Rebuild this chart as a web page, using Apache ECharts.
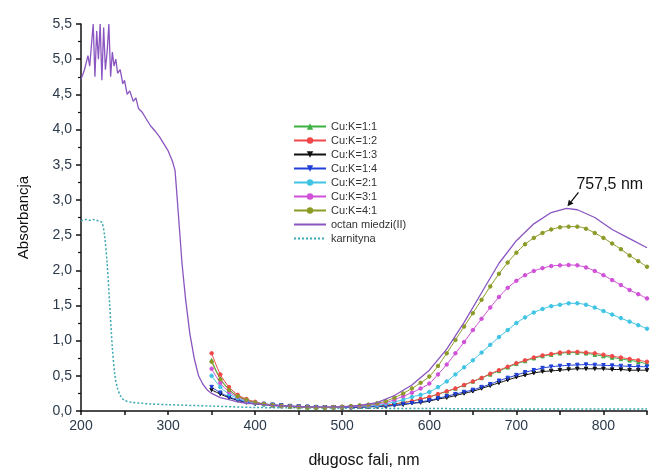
<!DOCTYPE html>
<html>
<head>
<meta charset="utf-8">
<script src="https://cdn.jsdelivr.net/npm/echarts@6/dist/echarts.min.js"></script>
<style>html,body{margin:0;padding:0;background:#fff;}#c{width:663px;height:468px;}</style>
</head>
<body>
<div id="c"></div>
<script>
// wavelengths for Cu:K series (nm)
const waveCu = [350,360,370,380,390,400,410,420,430,440,450,460,470,480,490,500,510,520,530,540,550,560,570,580,590,600,610,620,630,640,650,660,670,680,690,700,710,720,730,740,750,760,770,780,790,800,810,820,830,840,850];
const cuK_1_1 = [0.72,0.46,0.31,0.21,0.16,0.12,0.10,0.08,0.07,0.06,0.055,0.05,0.05,0.05,0.05,0.05,0.055,0.06,0.065,0.07,0.08,0.10,0.12,0.14,0.17,0.20,0.24,0.28,0.32,0.37,0.42,0.47,0.52,0.57,0.62,0.67,0.71,0.75,0.78,0.80,0.82,0.83,0.83,0.82,0.80,0.78,0.76,0.74,0.72,0.70,0.67];
const cuK_1_2 = [0.82,0.52,0.34,0.23,0.17,0.13,0.10,0.085,0.075,0.065,0.06,0.055,0.05,0.05,0.05,0.05,0.055,0.06,0.065,0.07,0.08,0.10,0.12,0.14,0.17,0.20,0.24,0.28,0.32,0.37,0.42,0.47,0.53,0.58,0.63,0.68,0.72,0.76,0.79,0.81,0.83,0.84,0.84,0.83,0.82,0.80,0.78,0.76,0.74,0.72,0.70];
const cuK_1_3 = [0.30,0.24,0.19,0.15,0.12,0.10,0.09,0.08,0.07,0.065,0.06,0.055,0.05,0.05,0.05,0.05,0.05,0.055,0.06,0.065,0.07,0.08,0.09,0.11,0.12,0.14,0.17,0.19,0.22,0.25,0.28,0.32,0.36,0.40,0.44,0.48,0.51,0.54,0.56,0.57,0.58,0.59,0.60,0.60,0.60,0.60,0.59,0.59,0.58,0.58,0.58];
const cuK_1_4 = [0.34,0.26,0.20,0.16,0.13,0.11,0.10,0.09,0.08,0.07,0.065,0.06,0.055,0.05,0.05,0.05,0.05,0.055,0.06,0.065,0.07,0.08,0.10,0.11,0.13,0.15,0.18,0.21,0.24,0.27,0.30,0.34,0.38,0.43,0.47,0.51,0.55,0.58,0.61,0.63,0.64,0.65,0.655,0.66,0.655,0.65,0.645,0.64,0.635,0.63,0.63];
const cuK_2_1 = [0.50,0.34,0.24,0.18,0.14,0.11,0.09,0.08,0.07,0.065,0.06,0.055,0.05,0.05,0.05,0.055,0.06,0.065,0.07,0.08,0.10,0.13,0.16,0.20,0.23,0.27,0.34,0.42,0.52,0.62,0.72,0.83,0.94,1.05,1.15,1.25,1.33,1.40,1.45,1.49,1.51,1.53,1.53,1.51,1.47,1.42,1.37,1.32,1.27,1.22,1.17];
const cuK_3_1 = [0.60,0.40,0.27,0.20,0.15,0.12,0.10,0.08,0.07,0.065,0.06,0.055,0.05,0.05,0.055,0.06,0.065,0.07,0.08,0.10,0.12,0.16,0.21,0.26,0.32,0.39,0.52,0.66,0.82,0.98,1.15,1.31,1.47,1.62,1.75,1.85,1.93,1.99,2.03,2.06,2.07,2.075,2.07,2.04,1.99,1.93,1.86,1.79,1.72,1.66,1.60];
const cuK_4_1 = [0.70,0.45,0.30,0.21,0.16,0.12,0.10,0.085,0.075,0.065,0.06,0.055,0.05,0.05,0.055,0.06,0.07,0.08,0.09,0.11,0.14,0.19,0.25,0.32,0.40,0.49,0.64,0.82,1.01,1.20,1.39,1.58,1.77,1.95,2.11,2.25,2.37,2.46,2.53,2.58,2.61,2.62,2.62,2.59,2.53,2.46,2.38,2.30,2.21,2.13,2.05];

// octan miedzi(II)
const waveOctan = [200,202,204,206,208,210,212,214,216,218,220,222,224,226,228,230,232,234,236,238,240,242,245,248,250,253,256,260,263,266,270,275,280,285,290,295,300,305,308,310,313,316,320,325,330,335,340,345,350,360,370,380,390,400,420,440,460,480,500,520,540,560,580,600,620,640,660,680,700,720,740,757.5,770,790,810,830,850];
const octan = [4.72,4.78,4.85,4.95,5.05,4.9,5.2,5.5,4.75,5.4,5.0,5.5,4.7,5.45,4.85,5.1,5.5,4.75,5.1,4.9,5.0,4.8,4.85,4.65,4.7,4.5,4.55,4.4,4.45,4.3,4.25,4.15,4.05,3.98,3.9,3.8,3.7,3.55,3.42,3.1,2.6,2.1,1.6,1.1,0.75,0.5,0.38,0.3,0.25,0.19,0.16,0.13,0.11,0.10,0.08,0.07,0.06,0.06,0.06,0.08,0.12,0.22,0.37,0.58,0.88,1.26,1.68,2.1,2.42,2.66,2.82,2.88,2.86,2.75,2.58,2.45,2.32];

// karnityna
const waveKarn = [200,205,210,215,220,224,227,230,233,236,239,242,246,250,260,270,280,300,350,400,450,500,600,700,800,850];
const karnityna = [2.7,2.72,2.71,2.72,2.70,2.68,2.5,2.1,1.5,0.9,0.5,0.32,0.2,0.15,0.12,0.11,0.10,0.09,0.07,0.05,0.045,0.04,0.035,0.03,0.03,0.03];

const peakX = 757.5, peakY = 2.88, peakLabel = '757,5 nm';

const zip = (xs, ys) => xs.map((x, i) => [x, ys[i]]);
const FONT = "'Liberation Sans', Arial, sans-serif";

function cuSeries(name, ys, color, symbol, rotate) {
  return {
    name, type: 'line', data: zip(waveCu, ys), smooth: 0.3,
    symbol, symbolSize: 3.5, symbolRotate: rotate || 0, showAllSymbol: true,
    lineStyle: { color, width: 1 }, itemStyle: { color, borderColor: color },
    z: 3
  };
}

const chart = echarts.init(document.getElementById('c'), null, { renderer: 'canvas' });
chart.setOption({
  animation: false,
  backgroundColor: '#fff',
  textStyle: { fontFamily: FONT },
  grid: { left: 81, right: 16, top: 24, bottom: 57, containLabel: false, outerBoundsMode: 'none' },
  legend: {
    orient: 'vertical', left: 288, top: 116,
    itemWidth: 32, itemHeight: 8, itemGap: 3,
    textStyle: { fontSize: 11, color: '#333', fontFamily: FONT, lineHeight: 10 },
    data: ['Cu:K=1:1','Cu:K=1:2','Cu:K=1:3','Cu:K=1:4','Cu:K=2:1','Cu:K=3:1','Cu:K=4:1',
      { name: 'octan miedzi(II)', itemStyle: { opacity: 0 } },
      { name: 'karnityna', itemStyle: { opacity: 0 } }]
  },
  xAxis: {
    type: 'value', min: 200, max: 850, interval: 50,
    name: 'długosc fali, nm', nameLocation: 'middle', nameGap: 42,
    nameTextStyle: { fontSize: 16, color: '#111', fontFamily: FONT },
    axisLine: { lineStyle: { color: '#111', width: 1.5 } },
    axisTick: { length: 4, lineStyle: { color: '#111', width: 1.5 } },
    axisLabel: { fontSize: 14, color: '#2b3a4a', margin: 8, formatter: v => (v % 100 === 0 && v < 850) ? String(v) : '' },
    splitLine: { show: false }
  },
  yAxis: {
    type: 'value', min: 0, max: 5.5, interval: 0.5,
    name: 'Absorbancja', nameLocation: 'middle', nameGap: 50, nameRotate: 90,
    nameTextStyle: { fontSize: 15, color: '#111', fontFamily: FONT },
    axisLine: { show: true, lineStyle: { color: '#111', width: 1.5 } },
    axisTick: { show: true, length: 5, lineStyle: { color: '#111', width: 1.5 } },
    minorTick: { show: true, splitNumber: 2, length: 3, lineStyle: { color: '#111', width: 1.2 } },
    axisLabel: { fontSize: 14, color: '#2b3a4a', margin: 9, formatter: v => v.toFixed(1).replace('.', ',') },
    splitLine: { show: false }
  },
  series: [
    cuSeries('Cu:K=1:1', cuK_1_1, '#3cb043', 'triangle'),
    cuSeries('Cu:K=1:2', cuK_1_2, '#f04848', 'circle'),
    cuSeries('Cu:K=1:3', cuK_1_3, '#111111', 'triangle', 180),
    cuSeries('Cu:K=1:4', cuK_1_4, '#2040d8', 'triangle', 180),
    cuSeries('Cu:K=2:1', cuK_2_1, '#40c4e4', 'circle'),
    cuSeries('Cu:K=3:1', cuK_3_1, '#d050d8', 'circle'),
    cuSeries('Cu:K=4:1', cuK_4_1, '#8c9a26', 'circle'),
    {
      name: 'octan miedzi(II)', type: 'line', data: zip(waveOctan, octan),
      symbol: 'none', smooth: false,
      lineStyle: { color: '#8a55c0', width: 1.3 }, itemStyle: { color: '#8a55c0' }, z: 4
    },
    {
      name: 'karnityna', type: 'line', data: zip(waveKarn, karnityna),
      symbol: 'none', smooth: 0.3,
      lineStyle: { color: '#3aa8b0', width: 1.5, type: [2, 2] }, itemStyle: { color: '#3aa8b0' }, z: 2
    }
  ]
});

const p = chart.convertToPixel({ xAxisIndex: 0, yAxisIndex: 0 }, [peakX, peakY]);
const tipX = p[0] + 1, tipY = p[1] - 2;
const startX = p[0] + 12, startY = p[1] - 16;
const ang = Math.atan2(tipY - startY, tipX - startX);
const ah = 6, aw = 3;
const bx = tipX - ah * Math.cos(ang), by = tipY - ah * Math.sin(ang);
chart.setOption({
  graphic: [
    { type: 'line', shape: { x1: startX, y1: startY, x2: bx, y2: by }, style: { stroke: '#111', lineWidth: 1.3 }, z: 100 },
    { type: 'polygon', shape: { points: [[tipX, tipY], [bx + aw * Math.sin(ang), by - aw * Math.cos(ang)], [bx - aw * Math.sin(ang), by + aw * Math.cos(ang)]] }, style: { fill: '#111' }, z: 100 },
    { type: 'text', x: p[0] + 10, y: p[1] - 24, style: { text: peakLabel, font: "16px 'Liberation Sans', Arial, sans-serif", fill: '#111', textVerticalAlign: 'middle', textAlign: 'left' }, z: 100 }
  ]
});
</script>
</body>
</html>
